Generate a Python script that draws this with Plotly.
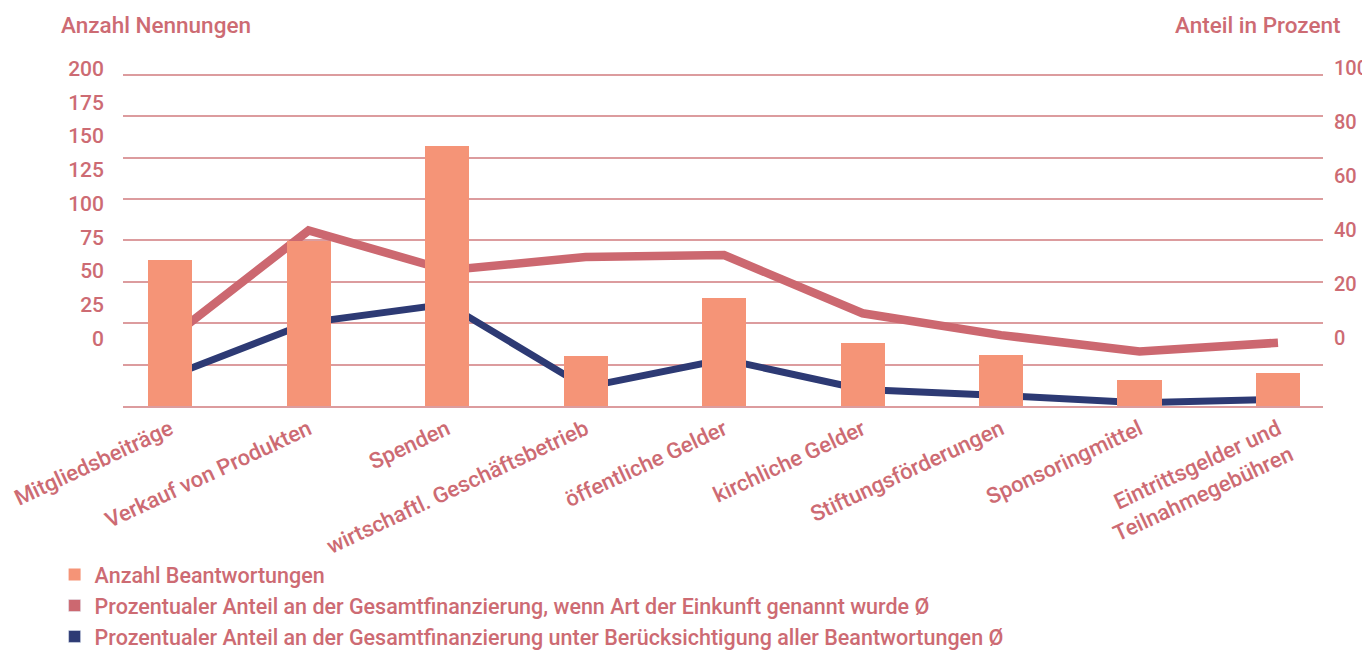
import plotly.graph_objects as go

# colours
color_palette = {
    "bar": "#f59477",
    "red": "#cc6870",
    "blue": "#2d3a74",
    "text": "#cd6b73",
    "grid": "#dc9c9e",
}

categories = [
    "Mitgliedsbeiträge",
    "Verkauf von Produkten",
    "Spenden",
    "wirtschaftl. Geschäftsbetrieb",
    "öffentliche Gelder",
    "kirchliche Gelder",
    "Stiftungsförderungen",
    "Sponsoringmittel",
    "Eintrittsgelder und<br>Teilnahmegebühren",
]

anzahl = [88, 100, 157, 30, 65, 38, 31, 16, 20]
anteil_genannt = [20.5, 53, 41, 45, 45.6, 28, 21.4, 16.5, 19.1]
anteil_alle = [9, 25.2, 30.8, 5.7, 14.1, 5, 3.2, 1, 2]

left_labels = [0, 25, 50, 75, 100, 125, 150, 175, 200]
right_labels = [0, 20, 40, 60, 80, 100]

# the printed tick labels sit off the gridlines in the original, so they are
# mapped onto the axes with their own offset/step
left_tickvals = [40.76 + v * 0.8164 for v in left_labels]
right_tickvals = [20.68 + v * 0.8134 for v in right_labels]

FONT = "Roboto"
TXT = dict(family=FONT, color=color_palette["text"], weight=500)

fig = go.Figure()

fig.add_trace(go.Scatter(
    x=categories, y=anteil_genannt, mode="lines",
    line=dict(color=color_palette["red"], width=8.5),
    yaxis="y", showlegend=False,
))
fig.add_trace(go.Scatter(
    x=categories, y=anteil_alle, mode="lines",
    line=dict(color=color_palette["blue"], width=7),
    yaxis="y", showlegend=False,
))
fig.add_trace(go.Bar(
    x=categories, y=anzahl, width=0.318,
    marker_color=color_palette["bar"], marker_line_width=0,
    yaxis="y2", name="Anzahl Beantwortungen",
))

# legend entries shown as squares, like the original
for name, col in [
    ("Prozentualer Anteil an der Gesamtfinanzierung, wenn Art der Einkunft genannt wurde Ø", color_palette["red"]),
    ("Prozentualer Anteil an der Gesamtfinanzierung unter Berücksichtigung aller Beantwortungen Ø", color_palette["blue"]),
]:
    fig.add_trace(go.Bar(x=[None], y=[None], name=name, marker_color=col, yaxis="y2"))

# page body has an 8px margin, so the figure is 8px smaller than the window
fig.update_layout(
    width=1362, height=644,
    margin=dict(l=115, r=47, t=52, b=246, autoexpand=False),
    plot_bgcolor="white", paper_bgcolor="white",
    font=dict(size=20, **TXT),
    bargap=0,
    xaxis=dict(
        range=[-0.34, 8.325], tickangle=-25, automargin=False,
        tickfont=dict(size=22, **TXT),
        showgrid=False, showline=True, linecolor=color_palette["grid"], linewidth=2,
        ticks="",
    ),
    yaxis=dict(
        side="right", range=[0, 104.5], automargin=False,
        tickvals=right_tickvals, ticktext=[str(v) for v in right_labels],
        tickfont=dict(size=20, **TXT),
        showgrid=False, zeroline=False, ticks="", ticklabelstandoff=10,
        minor=dict(showgrid=True, dtick=12.5, tick0=0, gridcolor=color_palette["grid"], gridwidth=2),
    ),
    yaxis2=dict(
        side="left", overlaying="y", range=[0, 209.1], automargin=False,
        tickvals=left_tickvals, ticktext=[str(v) for v in left_labels],
        tickfont=dict(size=21, **TXT),
        showgrid=False, zeroline=False, ticks="", ticklabelstandoff=18,
    ),
    legend=dict(
        x=-0.057, xanchor="left", y=-0.428, yanchor="top",
        orientation="v", font=dict(size=21.5, **TXT),
        traceorder="normal", itemclick=False, bgcolor="rgba(0,0,0,0)",
    ),
    annotations=[
        dict(text="Anzahl Nennungen", xref="paper", yref="paper", x=-0.053, y=1.1,
             xanchor="left", yanchor="middle", showarrow=False,
             font=dict(size=22.5, **TXT)),
        dict(text="Anteil in Prozent", xref="paper", yref="paper", x=1.017, y=1.1,
             xanchor="right", yanchor="middle", showarrow=False,
             font=dict(size=22.5, **TXT)),
    ],
)

fig.write_html("out.html")
